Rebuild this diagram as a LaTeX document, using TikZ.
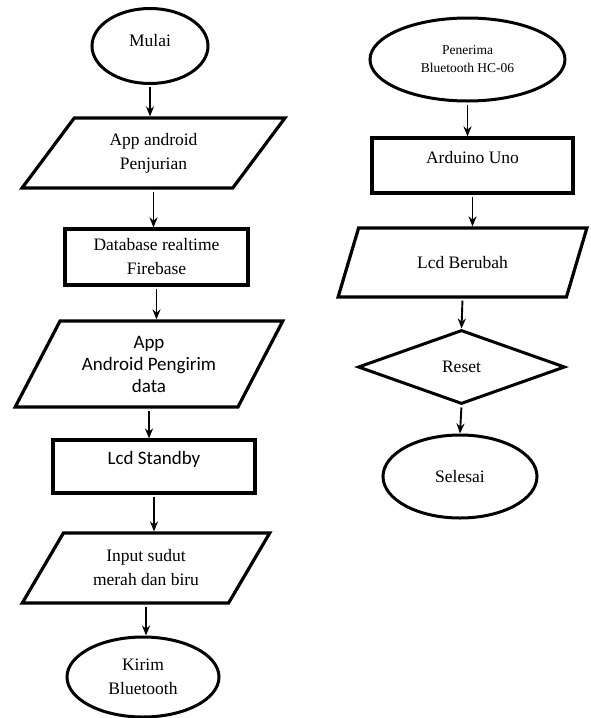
\documentclass[tikz,border=0pt]{standalone}
\usepackage{fontspec}
\setmainfont{Liberation Serif}
\newfontfamily\calibrifont{Carlito}
\usepackage{tikz}
\usetikzlibrary{shapes.geometric, arrows.meta}
\tikzset{>={Stealth[length=10pt, width=8pt]}}
\tikzset{
	teks/.style={font=\fontsize{17.5}{24}\selectfont, align=center},
	terminal/.style={teks, ellipse, draw, line width=3pt, inner sep=0pt},
	proses/.style={teks, rectangle, draw, line width=3.2pt, inner sep=0pt},
	dataio/.style={teks, trapezium, trapezium left angle=54, trapezium right angle=126, trapezium stretches=true, draw, line width=3.2pt, inner sep=0pt},
	keputusan/.style={teks, diamond, draw, line width=3pt, inner sep=0pt},
	panah/.style={->, line width=1.9pt, shorten <=2pt}
}

\begin{document}
\begin{tikzpicture}[x=1pt, y=-1pt]
	\useasboundingbox (0,0) rectangle (590,718);
	\node[terminal, minimum width=116pt, minimum height=75pt, text height=12pt, text depth=12pt] (mulai) at (150,46) {Mulai};
	\node[dataio, minimum width=263pt, minimum height=70pt] (appjuri) at (153.5,153) {App android\\Penjurian};
	\node[proses, minimum width=183pt, minimum height=56pt] (firebase) at (156.5,257) {Database realtime\\Firebase};
	\node[dataio, trapezium left angle=59, trapezium right angle=121, minimum width=268pt, minimum height=86pt, font=\calibrifont\fontsize{19}{22}\selectfont] (appkirim) at (149,364) {App\\Android Pengirim\\data};
	\node[proses, minimum width=202pt, minimum height=53pt, font=\calibrifont\fontsize{19}{22}\selectfont, text height=14pt, text depth=19pt] (standby) at (154,466.5) {Lcd Standby};
	\node[dataio, minimum width=248pt, minimum height=70pt] (sudut) at (146,568) {Input sudut\\merah dan biru};
	\node[terminal, minimum width=152pt, minimum height=80pt] (kirim) at (143,677) {Kirim\\Bluetooth};
	\node[terminal, minimum width=195pt, minimum height=83pt, font=\fontsize{13.5}{18}\selectfont] (penerima) at (467.5,59.5) {Penerima\\Bluetooth HC-06};
	\node[proses, minimum width=201pt, minimum height=55pt, text height=12pt, text depth=17pt] (arduino) at (472.5,165.5) {Arduino Uno};
	\node[dataio, minimum width=249pt, minimum height=69pt] (berubah) at (462.5,262.5) {Lcd Berubah};
	\node[keputusan, minimum width=207pt, minimum height=74pt] (reset) at (461.5,367) {Reset};
	\node[terminal, minimum width=154pt, minimum height=83pt] (selesai) at (460,476.5) {Selesai};
	\draw[panah] (mulai) -- (mulai |- appjuri.north);
	\draw[panah] (appjuri.south) -- (firebase.north -| appjuri.south);
	\draw[panah] (firebase.south) -- (firebase.south |- appkirim.north);
	\draw[panah] (appkirim.south) -- (appkirim.south |- standby.north);
	\draw[panah] (standby.south) -- (standby.south |- sudut.north);
	\draw[panah] (sudut.south) -- (sudut.south |- kirim.north);
	\draw[panah] (penerima) -- (penerima |- arduino.north);
	\draw[panah] (arduino.south) -- (arduino.south |- berubah.north);
	\draw[panah] (berubah.south) -- (reset.north);
	\draw[panah] (reset.south) -- (selesai.north);
\end{tikzpicture}
\end{document}
